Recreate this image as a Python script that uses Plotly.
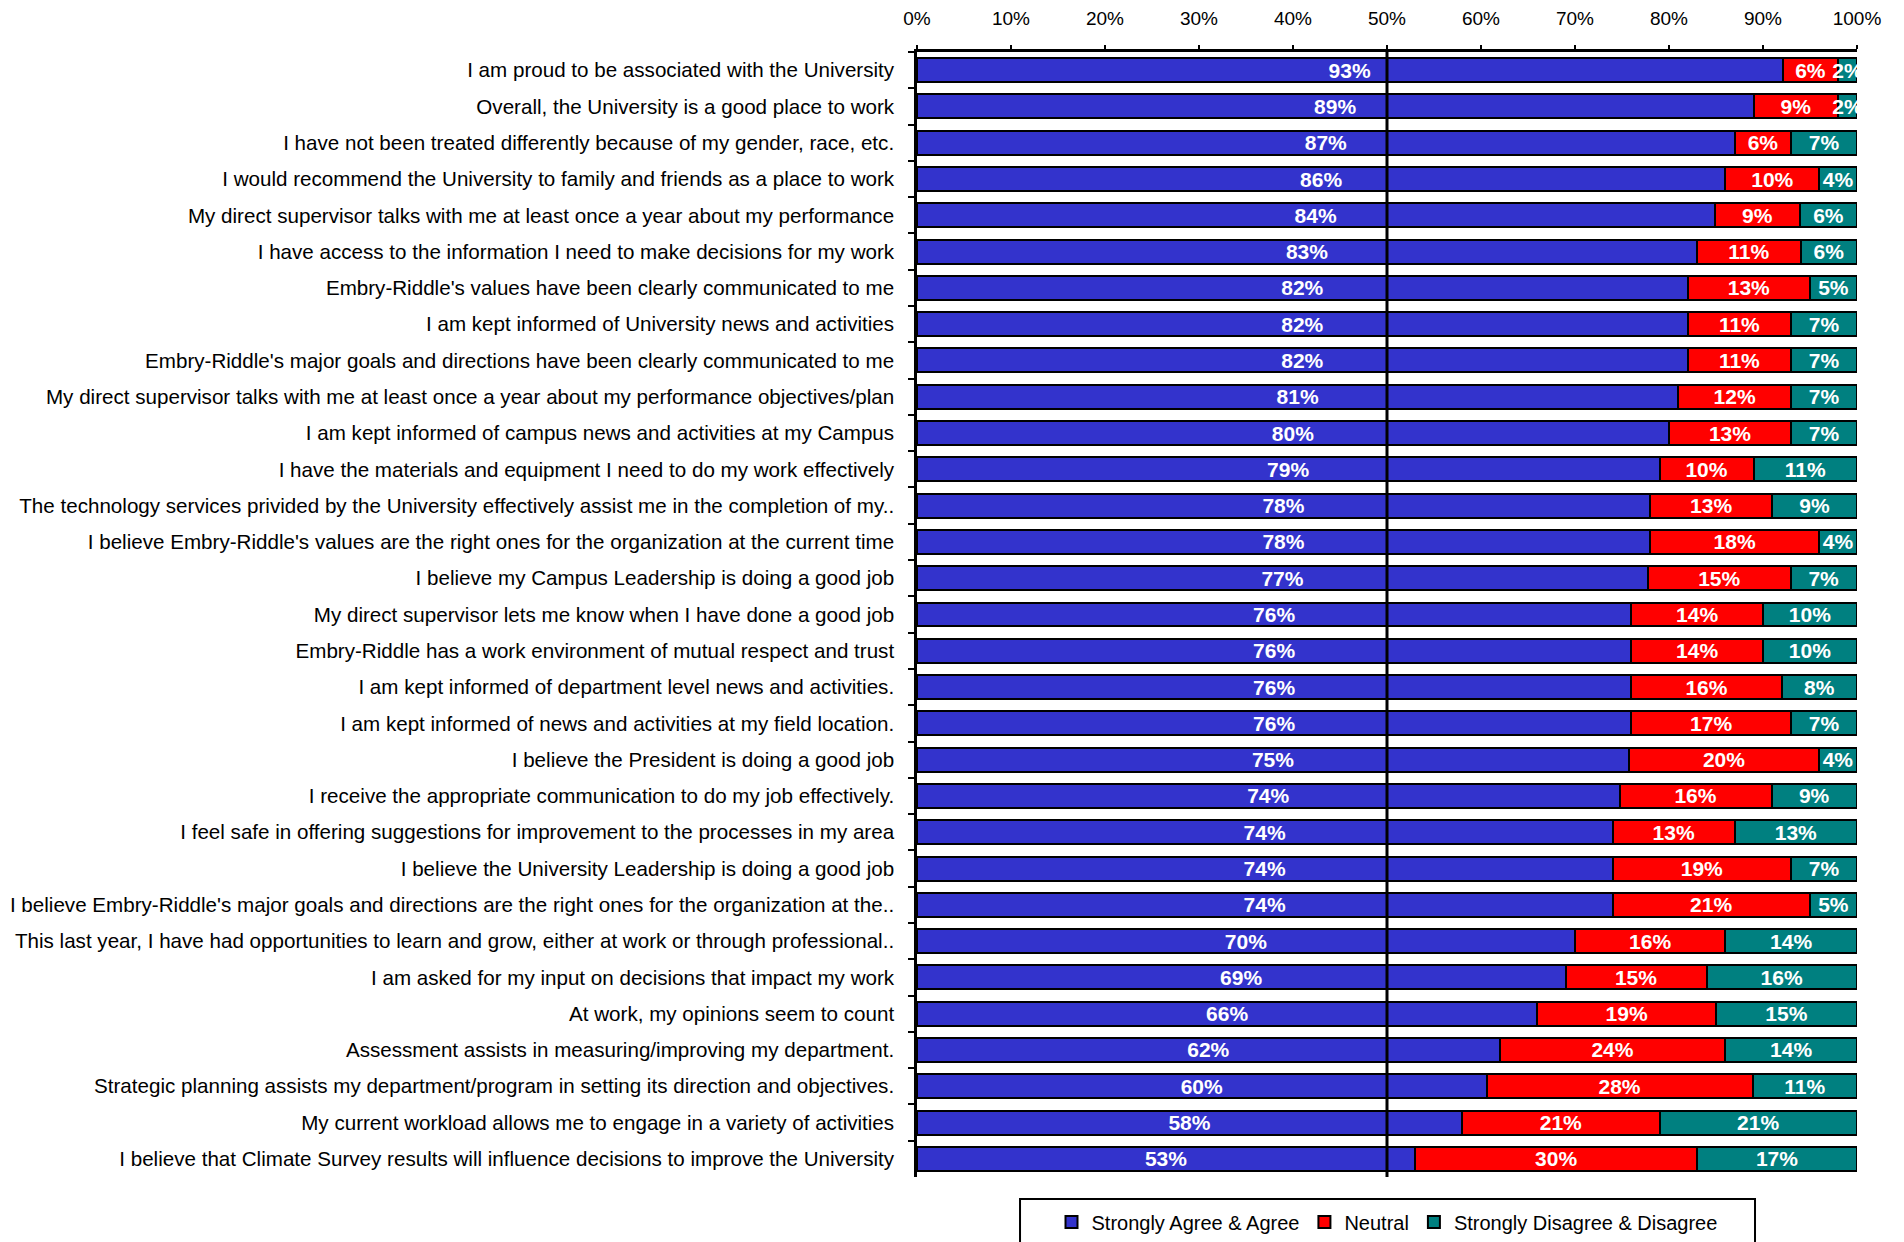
import plotly.graph_objects as go

# Survey statements, top to bottom
statements = [
    "I am proud to be associated with the University",
    "Overall, the University is a good place to work",
    "I have not been treated differently because of my gender, race, etc.",
    "I would recommend the University to family and friends as a place to work",
    "My direct supervisor talks with me at least once a year about my performance",
    "I have access to the information I need to make decisions for my work",
    "Embry-Riddle's values have been clearly communicated to me",
    "I am kept informed of University news and activities",
    "Embry-Riddle's major goals and directions have been clearly communicated to me",
    "My direct supervisor talks with me at least once a year about my performance objectives/plan",
    "I am kept informed of campus news and activities at my Campus",
    "I have the materials and equipment I need to do my work effectively",
    "The technology services privided by the University effectively assist me in the completion of my..",
    "I believe Embry-Riddle's values are the right ones for the organization at the current time",
    "I believe my Campus Leadership is doing a good job",
    "My direct supervisor lets me know when I have done a good job",
    "Embry-Riddle has a work environment of mutual respect and trust",
    "I am kept informed of department level news and activities.",
    "I am kept informed of news and activities at my field location.",
    "I believe the President is doing a good job",
    "I receive the appropriate communication to do my job effectively.",
    "I feel safe in offering suggestions for improvement to the processes in my area",
    "I believe the University Leadership is doing a good job",
    "I believe Embry-Riddle's major goals and directions are the right ones for the organization at the..",
    "This last year, I have had opportunities to learn and grow, either at work or through professional..",
    "I am asked for my input on decisions that impact my work",
    "At work, my opinions seem to count",
    "Assessment assists in measuring/improving my department.",
    "Strategic planning assists my department/program in setting its direction and objectives.",
    "My current workload allows me to engage in a variety of activities",
    "I believe that Climate Survey results will influence decisions to improve the University",
]

# Response shares (%)
agree = [93, 89, 87, 86, 84, 83, 82, 82, 82, 81, 80, 79, 78, 78, 77, 76,
         76, 76, 76, 75, 74, 74, 74, 74, 70, 69, 66, 62, 60, 58, 53]
neutral = [6, 9, 6, 10, 9, 11, 13, 11, 11, 12, 13, 10, 13, 18, 15, 14,
           14, 16, 17, 20, 16, 13, 19, 21, 16, 15, 19, 24, 28, 21, 30]
disagree = [2, 2, 7, 4, 6, 6, 5, 7, 7, 7, 7, 11, 9, 4, 7, 10,
            10, 8, 7, 4, 9, 13, 7, 5, 14, 16, 15, 14, 11, 21, 17]

series_names = ["Strongly Agree & Agree", "Neutral", "Strongly Disagree & Disagree"]
series_colors = ["#3333CC", "#FF0000", "#008080"]
x_ticks = list(range(0, 101, 10))

FONT = "Liberation Sans, Arial, sans-serif"

fig = go.Figure()
for name, vals, color in zip(series_names, [agree, neutral, disagree], series_colors):
    fig.add_trace(go.Bar(
        name=name,
        y=statements,
        x=vals,
        orientation="h",
        marker=dict(color=color, line=dict(color="black", width=2)),
        text=[f"{v}%" for v in vals],
        textposition="inside",
        insidetextanchor="middle",
        textangle=0,
        constraintext="none",
        textfont=dict(family=FONT, size=21, color="white", weight="bold"),
    ))

# 50% reference line
fig.add_shape(type="line", xref="x", yref="paper", x0=50, x1=50, y0=0, y1=1,
              line=dict(color="black", width=3), layer="above")

# Frame around the legend
fig.add_shape(type="rect", xref="paper", yref="paper",
              x0=0.1096, x1=0.8915, y0=-0.07, y1=-0.0196,
              line=dict(color="black", width=2), fillcolor="white", layer="below")

fig.update_layout(
    barmode="stack",
    barnorm="percent",
    bargap=0.34,
    width=1904,
    height=1242,
    margin=dict(l=917, r=47, t=52, b=65, autoexpand=False),
    paper_bgcolor="white",
    plot_bgcolor="white",
    font=dict(family=FONT, size=20, color="black"),
    showlegend=True,
    legend=dict(
        orientation="h",
        x=0.5, xanchor="center",
        y=-0.040, yanchor="middle",
        font=dict(family=FONT, size=20, color="black"),
        itemwidth=30,
        bgcolor="rgba(0,0,0,0)",
        traceorder="normal",
    ),
    xaxis=dict(
        side="top",
        range=[0, 100],
        tickvals=x_ticks,
        ticktext=[f"{t}%" for t in x_ticks],
        ticks="outside",
        ticklen=4,
        tickwidth=2,
        tickcolor="black",
        showline=True,
        linecolor="black",
        linewidth=3,
        showgrid=False,
        zeroline=False,
        tickfont=dict(family=FONT, size=19, color="black"),
        ticklabelstandoff=12,
    ),
    yaxis=dict(
        autorange="reversed",
        showline=True,
        linecolor="black",
        linewidth=2.5,
        ticks="outside",
        tickson="boundaries",
        ticklen=6,
        tickwidth=2,
        tickcolor="black",
        showgrid=False,
        tickfont=dict(family=FONT, size=20.6, color="black"),
        ticklabelstandoff=16,
    ),
)

fig.write_html("out.html")
